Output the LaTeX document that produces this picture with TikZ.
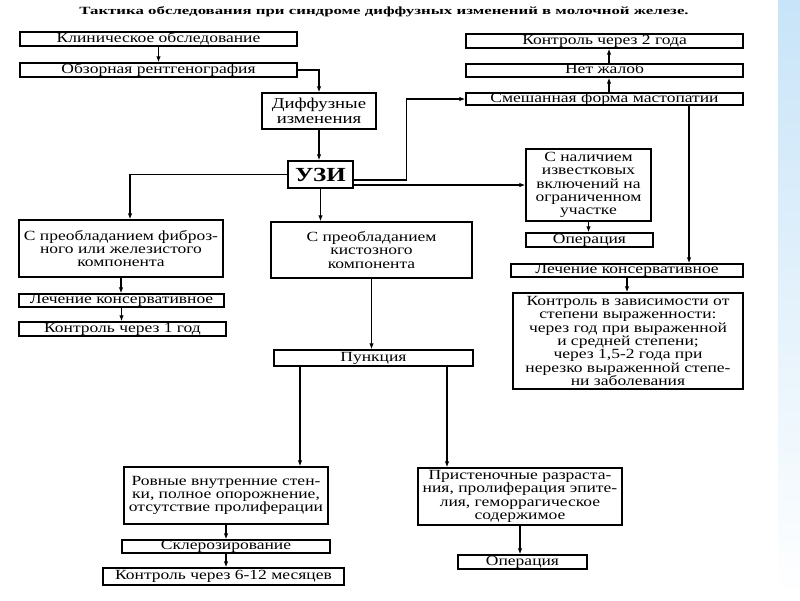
\documentclass[tikz,border=0pt]{standalone}
\usepackage{fontspec}
\setmainfont{Liberation Serif}[FakeStretch=1.25]
\newfontfamily\titlefont{Liberation Serif}[FakeStretch=1.53]
\usetikzlibrary{arrows.meta}
\definecolor{bandblue}{RGB}{200,228,248}

\begin{document}
\begin{tikzpicture}[x=1pt,y=-1pt,
  box/.style={draw, line width=1.3pt, inner sep=0pt, align=center,
              font=\fontsize{14}{13.3}\selectfont},
  bar/.style={box, text height=9pt, text depth=3pt},
  arr/.style={-{Latex[length=6pt,width=4.5pt]}, line width=1.2pt}]
\useasboundingbox (0,0) rectangle (800,600);
\shade[top color=bandblue, bottom color=white] (778,0) rectangle (800,600);

\node[font=\titlefont\fontsize{11}{11}\selectfont\bfseries] (title) at (384,12)
  {Тактика обследования при синдроме диффузных изменений в молочной железе.};

% left and middle column
\node[bar, minimum width=277, minimum height=14] (klin) at (158.5,39) {Клиническое обследование};
\node[bar, minimum width=277, minimum height=14] (obz) at (158.5,70) {Обзорная рентгенография};
\node[box, minimum width=114, minimum height=36, font=\fontsize{15}{15}\selectfont] (diff) at (319,111)
  {Диффузные\\изменения};
\node[box, minimum width=65, minimum height=27, font=\fontsize{20}{20}\selectfont\bfseries] (uzi) at (320.5,174.5) {УЗИ};
\node[box, minimum width=204, minimum height=57] (fib) at (121,248.5)
  {С преобладанием фиброз-\\ного или железистого\\компонента};
\node[bar, minimum width=205, minimum height=13] (lech1) at (121.5,300.5) {Лечение консервативное};
\node[bar, minimum width=207, minimum height=14] (kon1) at (122.5,329) {Контроль через 1 год};
\node[box, minimum width=201, minimum height=56] (kist) at (371.5,250)
  {С преобладанием\\кистозного\\компонента};
\node[bar, minimum width=199, minimum height=16] (punk) at (373.5,358) {Пункция};
\node[box, minimum width=204, minimum height=57] (rov) at (226,495.5)
  {Ровные внутренние стен-\\ки, полное опорожнение,\\отсутствие пролиферации};
\node[bar, minimum width=208, minimum height=13] (skl) at (226,546.5) {Склерозирование};
\node[bar, minimum width=241, minimum height=17] (kon612) at (223.5,576.5) {Контроль через 6-12 месяцев};
\node[box, minimum width=204, minimum height=57] (prist) at (520,496.5)
  {Пристеночные разраста-\\ния, пролиферация эпите-\\лия, геморрагическое\\содержимое};
\node[bar, minimum width=129, minimum height=14] (oper2) at (522.5,562) {Операция};

% right column
\node[bar, minimum width=277, minimum height=14] (kon2) at (604.5,41) {Контроль через 2 года};
\node[bar, minimum width=277, minimum height=13] (net) at (604.5,70.5) {Нет жалоб};
\node[bar, minimum width=277, minimum height=12] (smesh) at (604.5,99) {Смешанная форма мастопатии};
\node[box, minimum width=125, minimum height=72] (izv) at (588.5,185)
  {С наличием\\известковых\\включений на\\ограниченном\\участке};
\node[bar, minimum width=127, minimum height=14] (oper1) at (589.5,240) {Операция};
\node[bar, minimum width=232, minimum height=13] (lech2) at (627,270.5) {Лечение консервативное};
\node[box, minimum width=230, minimum height=96] (konz) at (628,341)
  {Контроль в зависимости от\\степени выраженности:\\через год при выраженной\\и средней степени;\\через 1,5-2 года при\\нерезко выраженной степе-\\ни заболевания};

% arrows
\foreach \a/\b in {klin/obz, diff/uzi, fib/lech1, lech1/kon1, kist/punk,
                   rov/skl, skl/kon612, prist/oper2, izv/oper1, lech2/konz}{
  \draw[arr] (\a.south) -- (\a.south |- \b.north);
}
\foreach \a/\b in {smesh/net, net/kon2}{
  \draw[arr] ([xshift=4.5pt]\a.north) -- ([xshift=4.5pt]\a.north |- \b.south);
}
\draw[arr] (obz.east) -| (diff.north);
\draw[arr] (uzi.west) -| ([xshift=9pt]fib.north);
\draw[arr] (uzi.south) -- (uzi.south |- kist.north);
\draw[arr] ([yshift=-5.5pt]uzi.east) -- ++(53,0) |- (smesh.west);
\draw[arr] (uzi.east |- izv.west) -- (izv.west);
\draw[arr] ([xshift=84.5pt]smesh.south) -- ([xshift=84.5pt]smesh.south |- lech2.north);
\draw[arr] ([xshift=-73.5pt]punk.south) -- ([xshift=-73.5pt]punk.south |- rov.north);
\draw[arr] ([xshift=73.5pt]punk.south) -- ([xshift=73.5pt]punk.south |- prist.north);
\end{tikzpicture}
\end{document}
